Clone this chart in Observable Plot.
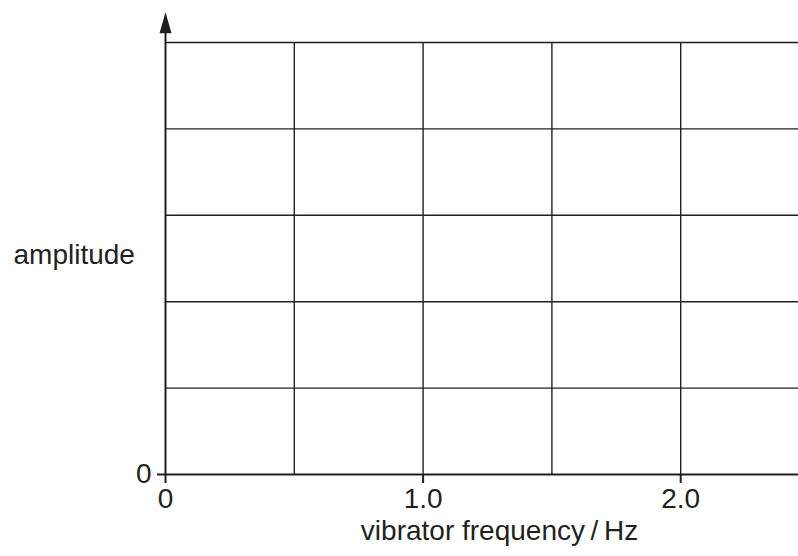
<!DOCTYPE html>
<html><head><meta charset="utf-8">
<script src="https://cdn.jsdelivr.net/npm/d3@7"></script>
<script src="https://cdn.jsdelivr.net/npm/@observablehq/plot@0.6"></script>
<style>
  html, body { margin: 0; padding: 0; background: #fff; }
  #chart svg { display: block; }
</style>
</head><body><div id="chart"></div>
<script>
// ---- data ----
const xGrid = [0.5, 1.0, 1.5, 2.0, 2.5];
const yGrid = [1, 2, 3, 4, 5];
const xTicks = [0, 1, 2];
const xTickLabels = ["0", "1.0", "2.0"];
const yTicks = [0];
const yTickLabels = ["0"];
const xLabel = "vibrator frequency\u2009/\u2009Hz";
const yLabel = "amplitude";
const xMax = 2.5;
const yMax = 5;
const yArrowTip = 5.35;

const ink = "#231f20";
const font = "Liberation Sans, Arial, Helvetica, sans-serif";
const fs = 28;

// filled, narrow arrowhead: tip at the anchor point
const arrowHead = {
  draw(context, size) {
    context.moveTo(0, 0);
    context.lineTo(-6, 21);
    context.lineTo(6, 21);
    context.closePath();
  }
};

const chart = Plot.plot({
  width: 798,
  height: 556,
  marginLeft: 165,
  marginRight: -11,
  marginTop: 42,
  marginBottom: 82,
  style: { background: "#fff", fontFamily: font, color: ink },
  x: { domain: [0, xMax] },
  y: { domain: [0, yMax] },
  marks: [
    // grid
    Plot.ruleX(xGrid, { y1: 0, y2: yMax, stroke: ink, strokeWidth: 1.4 }),
    Plot.ruleY(yGrid, { x1: 0, x2: xMax, stroke: ink, strokeWidth: 1.4 }),
    // axes lines
    Plot.ruleY([0], { x1: 0, x2: xMax, stroke: ink, strokeWidth: 2 }),
    Plot.ruleX([0], { y1: 0, y2: yArrowTip - 0.15, stroke: ink, strokeWidth: 2 }),
    Plot.dot([yArrowTip], { x: () => 0, y: d => d, symbol: arrowHead, r: 6, fill: ink, stroke: "none" }),
    // tick axes
    Plot.axisX({
      ticks: xTicks,
      tickFormat: d => xTickLabels[xTicks.indexOf(d)],
      tickSize: 9,
      tickPadding: 5,
      stroke: ink,
      strokeWidth: 2,
      fill: ink,
      fontSize: fs,
      label: null
    }),
    Plot.axisY({
      ticks: yTicks,
      tickFormat: d => yTickLabels[yTicks.indexOf(d)],
      tickSize: 8,
      tickPadding: 6,
      stroke: ink,
      strokeWidth: 2,
      fill: ink,
      fontSize: fs,
      label: null
    }),
    // axis titles
    Plot.text([yLabel], { frameAnchor: "left", dx: -152, dy: -3, textAnchor: "start", fontSize: fs, fill: ink }),
    Plot.text([xLabel], { frameAnchor: "bottom", dx: 12, dy: 65, fontSize: fs, fill: ink })
  ]
});
document.getElementById("chart").appendChild(chart);
</script>
</body></html>
